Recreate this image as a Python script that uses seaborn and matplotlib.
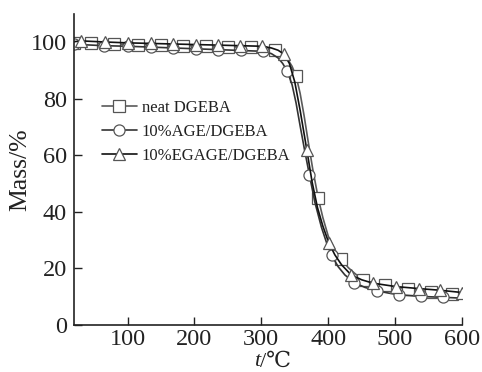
import numpy as np
import matplotlib
matplotlib.use("Agg")
import matplotlib.pyplot as plt
import seaborn as sns

# ---- data ----
neat_T = [20, 45, 80, 115, 150, 183, 218, 250, 285, 300, 320, 330, 340, 346, 352, 358, 364, 370,
          377, 385, 392, 400, 410, 419, 430, 440, 452, 468, 485, 520, 553, 585, 600]
neat_mass = [99.8, 99.6, 99.4, 99.2, 99.0, 98.8, 98.6, 98.4, 98.2, 98.0, 97.3, 96.2, 93.8, 91.5,
             88, 82, 74, 65, 55, 45, 38, 31.5, 26.5, 23.5, 20.3, 18.2, 16, 14.8, 14, 12.7, 11.8, 11.1, 10.8]
neat_marks = [20, 45, 80, 115, 150, 183, 218, 250, 285, 320, 352, 385, 419, 452, 485, 520, 553, 585]

age_T = [20, 65, 100, 135, 168, 202, 236, 270, 303, 315, 325, 332, 339, 346, 352, 358, 365, 372,
         380, 390, 398, 405, 415, 425, 439, 455, 473, 490, 506, 539, 572, 600]
age_mass = [99.3, 98.8, 98.6, 98.3, 98.0, 97.7, 97.4, 97.1, 96.8, 96, 94.5, 92.5, 89.7, 85, 78.5,
            70.5, 61.5, 53, 43.5, 34.5, 28.8, 24.7, 20.6, 17.7, 15, 13.3, 12.1, 11.3, 10.7, 10.1, 9.8, 9.5]
age_marks = [20, 65, 100, 135, 168, 202, 236, 270, 303, 339, 372, 405, 439, 473, 506, 539, 572]

egage_T = [20, 30, 67, 100, 135, 168, 202, 236, 268, 301, 315, 325, 334, 342, 350, 358, 368, 376,
           384, 392, 401, 410, 420, 434, 450, 467, 501, 535, 567, 600]
egage_mass = [100.2, 100.5, 100.1, 99.8, 99.6, 99.4, 99.2, 99.0, 98.8, 98.6, 98, 97.2, 95.8, 92.5,
              86, 76, 62, 50.5, 41.5, 35, 29, 24.8, 21.3, 17.8, 16, 14.8, 13.6, 12.9, 12.3, 11.5]
egage_marks = [30, 67, 100, 135, 168, 202, 236, 268, 301, 334, 368, 401, 434, 467, 501, 535, 567, 600]

labels = ["neat DGEBA", "10%AGE/DGEBA", "10%EGAGE/DGEBA"]
x_ticks = [100, 200, 300, 400, 500, 600]
y_ticks = [0, 20, 40, 60, 80, 100]

sns.set_style("ticks")
plt.rcParams['font.family'] = ['Liberation Serif', 'DejaVu Serif']

fig = plt.figure(figsize=(4.82, 3.72), dpi=100)
ax = fig.add_axes([0.1535, 0.1263, 0.805, 0.836])

series = [
    (neat_T, neat_mass, neat_marks, 's', '#5a5a5a'),
    (age_T, age_mass, age_marks, 'o', '#333333'),
    (egage_T, egage_mass, egage_marks, '^', '#111111'),
]
for (T, m, marks, mk, col), lab in zip(series, labels):
    every = [i for i, t in enumerate(T) if t in marks]
    sns.lineplot(x=T, y=m, ax=ax, sort=False, color=col, lw=1.2, marker=mk,
                 markersize=8, markerfacecolor='white', markeredgecolor='#555555',
                 markeredgewidth=0.9, markevery=every, label=lab)

ax.set_xlim(20, 600)
ax.set_ylim(0, 110)
ax.set_xticks(x_ticks)
ax.set_yticks(y_ticks)
ax.tick_params(direction='in', length=6, width=1, labelsize=17.5, colors='#222222', pad=5)
ax.tick_params(axis='x', pad=3)
for s in ['top', 'right']:
    ax.spines[s].set_visible(False)
for s in ['left', 'bottom']:
    ax.spines[s].set_linewidth(1.2)
    ax.spines[s].set_color('#222222')

# x label: italic t plus "/℃" (℃ needs the fallback font)
ax.text(0.479, -0.088, 't', transform=ax.transAxes, ha='right', va='top',
        fontsize=16, style='italic', color='#222222')
ax.text(0.479, -0.088, '/℃', transform=ax.transAxes, ha='left', va='top',
        fontsize=16, color='#222222')
ax.set_ylabel('Mass/%', fontsize=18.5, labelpad=0, color='#222222')

ax.legend(loc='upper left', bbox_to_anchor=(0.072, 0.725), frameon=False, fontsize=12,
          handlelength=2.1, handletextpad=0.3, labelspacing=0.5, borderaxespad=0,
          borderpad=0, labelcolor='#222222')

fig.savefig('out.png', dpi=100)
